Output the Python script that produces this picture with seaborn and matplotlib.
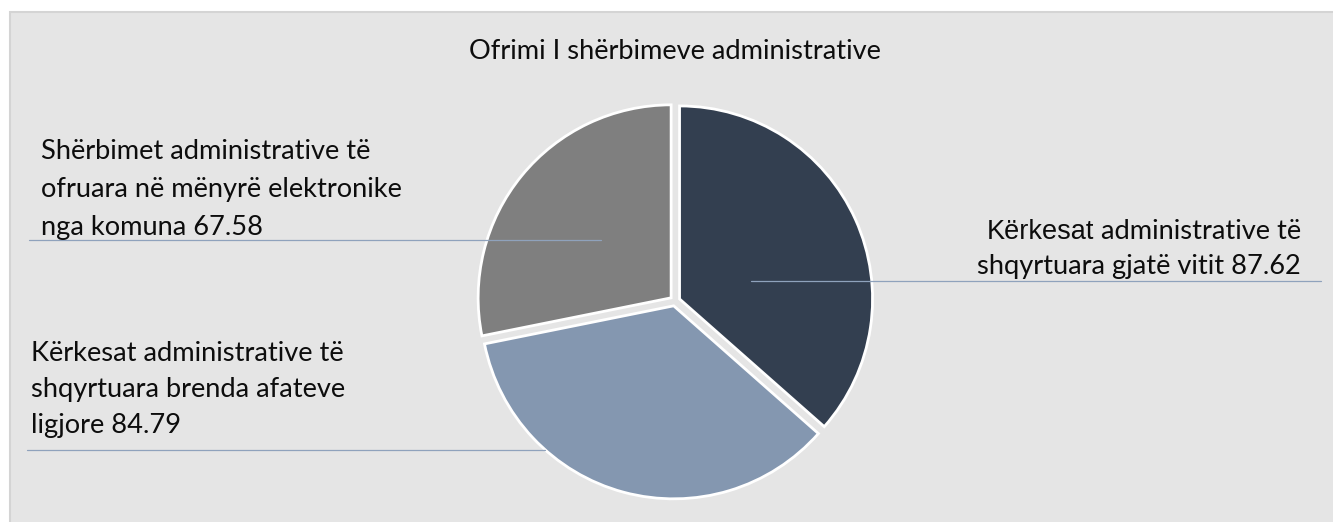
import matplotlib
matplotlib.use("Agg")
import matplotlib.pyplot as plt
import seaborn as sns
import numpy as np
from matplotlib.patches import Rectangle
from matplotlib.lines import Line2D

# ---------------- data ----------------
title = "Ofrimi I shërbimeve administrative"
categories = [
    "Kërkesat administrative të shqyrtuara gjatë vitit",
    "Kërkesat administrative të shqyrtuara brenda afateve ligjore",
    "Shërbimet administrative të ofruara në mënyrë elektronike nga komuna",
]
values = [87.62, 84.79, 67.58]
label_lines = [
    ["Kërkesat administrative të", "shqyrtuara gjatë vitit 87.62"],
    ["Kërkesat administrative të", "shqyrtuara brenda afateve", "ligjore 84.79"],
    ["Shërbimet administrative të", "ofruara në mënyrë elektronike", "nga komuna 67.58"],
]
slice_colors = ["#333F50", "#8497B0", "#7F7F7F"]

# ---------------- style ----------------
sns.set_theme(style="white")
MAIN = ["Lato", "DejaVu Sans"]
ARIAL = ["Liberation Sans", "DejaVu Sans"]
plt.rcParams["font.family"] = MAIN

W, H = 1333, 522
fig = plt.figure(figsize=(W / 100, H / 100), dpi=100)
fig.patch.set_facecolor("white")

# chart area panel
fig.patches.append(Rectangle((10 / W, -0.02), 1.0, (H - 12) / H + 0.02,
                             transform=fig.transFigure, facecolor="#E5E5E5",
                             edgecolor="#D4D4D4", lw=1.5, zorder=-10))

renderer = fig.canvas.get_renderer()

def fit_size(s, family, target, base=20.0):
    t = fig.text(0, 0, s, fontsize=base, family=family)
    w = t.get_window_extent(renderer=renderer).width
    t.remove()
    return base * target / w

def ptext(x, y_top, s, **kw):
    # x,y in pixels, y measured from the top of the image
    return fig.text(x / W, (H - y_top) / H, s, zorder=10, **kw)

fs = fit_size("Shërbimet administrative të", MAIN, 332)
fs_title = fit_size(title, MAIN, 414)
fs_arial = fit_size("Kërkesat", ARIAL, 107)
txt_color = "#0D0D0D"

# title
ptext(675, 59, title, fontsize=fs_title, ha="center", va="baseline", color=txt_color)

# pie
cx, cy_top, half = 675, 301, 220
cy = H - cy_top
ax = fig.add_axes([(cx - half) / W, (cy - half) / H, 2 * half / W, 2 * half / H])
ax.set_zorder(1)
ax.patch.set_visible(False)
wedges, _ = ax.pie(values, colors=slice_colors, startangle=90, counterclock=False,
                   explode=[0.025] * len(values), radius=0.965,
                   wedgeprops=dict(edgecolor="white", linewidth=2.0))
ax.set_xlim(-1.1, 1.1)
ax.set_ylim(-1.1, 1.1)
ax.set_aspect("equal")
ax.axis("off")

# leader-line anchors: (fraction along wedge angle, radius fraction), and line end x
anchor_spec = [(0.42, 0.38, 1321), (0.29, 1.0, 27), (0.5, 0.47, 29)]
line_color = "#8FA2BC"
for w, (fa, fr, xend) in zip(wedges, anchor_spec):
    th = np.deg2rad(w.theta1 + fa * (w.theta2 - w.theta1))
    px = w.center[0] + fr * w.r * np.cos(th)
    py = w.center[1] + fr * w.r * np.sin(th)
    X, Y = ax.transData.transform((px, py))
    fig.lines.append(Line2D([X / W, xend / W], [Y / H, Y / H], transform=fig.transFigure,
                            color=line_color, lw=0.9, zorder=5))

# labels
# slice 0 (right side)
r_edge = 1301
ptext(r_edge, 274, label_lines[0][1], fontsize=fs, ha="right", va="baseline", color=txt_color)
rest = " administrative të"
t1b = ptext(r_edge, 239, rest, fontsize=fs, ha="right", va="baseline", color=txt_color)
wb = t1b.get_window_extent(renderer=renderer).width
ptext(r_edge - wb, 239, "Kërkesat", fontsize=fs_arial, family=ARIAL, ha="right",
      va="baseline", color=txt_color)

# slice 1 (bottom left)
for ln, yb in zip(label_lines[1], [361, 397, 433]):
    ptext(31, yb, ln, fontsize=fs, ha="left", va="baseline", color=txt_color)

# slice 2 (top left)
for ln, yb in zip(label_lines[2], [159, 197, 235]):
    ptext(41, yb, ln, fontsize=fs, ha="left", va="baseline", color=txt_color)

fig.savefig("out.png", dpi=100, facecolor=fig.get_facecolor())
